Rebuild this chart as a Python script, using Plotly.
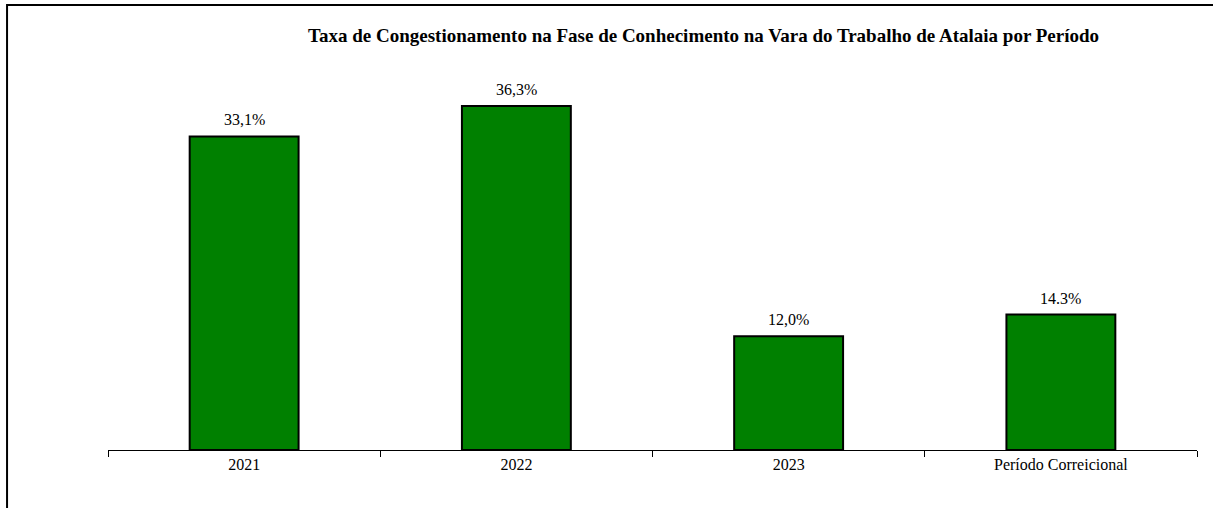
import plotly.graph_objects as go

categories = ["2021", "2022", "2023", "Período Correicional"]
values = [33.1, 36.3, 12.0, 14.3]
labels = ["33,1%", "36,3%", "12,0%", "14.3%"]
title_text = "Taxa de Congestionamento na Fase de Conhecimento na Vara do Trabalho de Atalaia por Período"

fig = go.Figure(go.Bar(
    x=categories, y=values,
    marker=dict(color="#008000", line=dict(color="#000000", width=2)),
    width=0.4,
    cliponaxis=False,
))

annotations = [
    dict(x=i, y=v, text=t, xref="x", yref="y", showarrow=False, yanchor="bottom", yshift=6,
         font=dict(family="Liberation Serif", size=16, color="#000000"))
    for i, (v, t) in enumerate(zip(values, labels))
]

fig.update_layout(
    width=1213, height=508,
    margin=dict(l=108, r=16, t=71, b=58),
    paper_bgcolor="white", plot_bgcolor="white",
    showlegend=False,
    title=dict(text="<b>" + title_text + "</b>", x=0.58, xanchor="center", y=0.931, yanchor="middle",
               font=dict(family="Liberation Serif", size=19, color="#000000")),
    font=dict(family="Liberation Serif", color="#000000"),
    xaxis=dict(type="category", showline=True, linecolor="#000000", linewidth=1, ticks="outside",
               tickson="boundaries", ticklen=6, tickcolor="#000000",
               tickfont=dict(size=16, family="Liberation Serif"),
               range=[-0.5, 3.5], showgrid=False),
    yaxis=dict(visible=False, range=[0, 40], showgrid=False, zeroline=False),
    annotations=annotations,
    shapes=[dict(type="rect", xref="paper", yref="paper", x0=-0.0927, x1=1.1, y0=-0.5, y1=1.174,
                 line=dict(color="#000000", width=2), fillcolor="rgba(0,0,0,0)", layer="above")],
)

fig.write_html("out.html", config={"displayModeBar": False},
               post_script="document.body.style.margin='0';")
